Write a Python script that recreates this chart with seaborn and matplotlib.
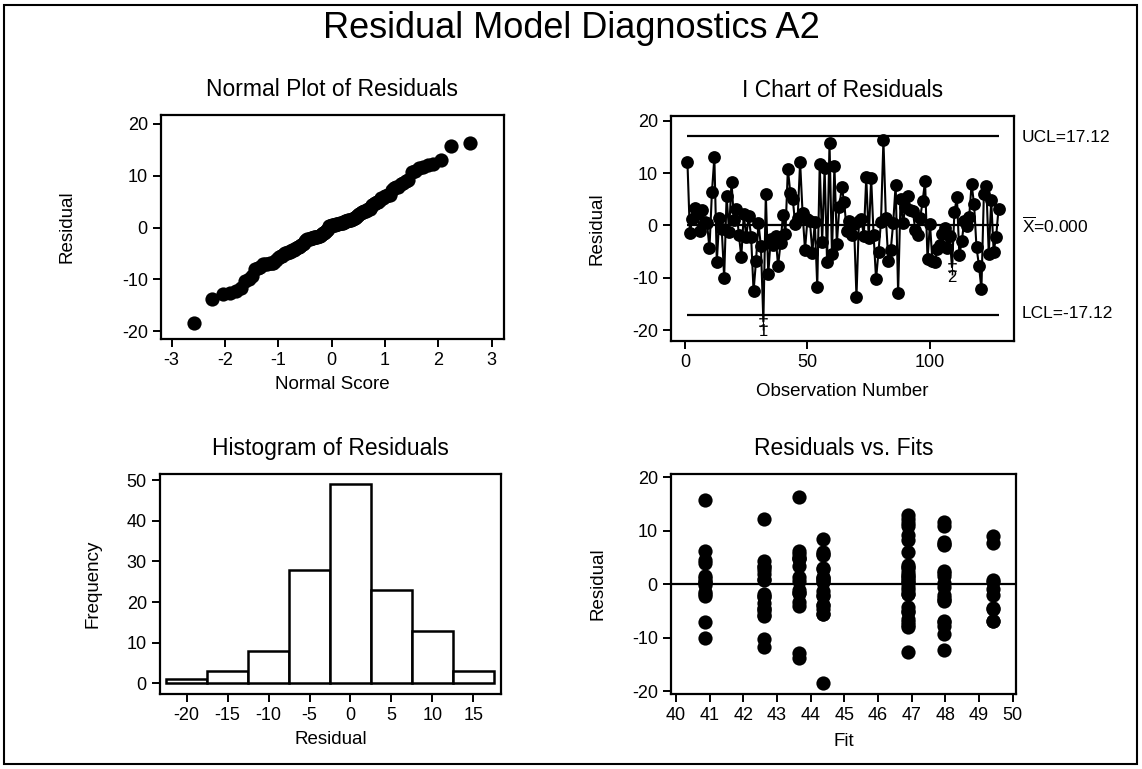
import statistics

import numpy as np
import matplotlib
matplotlib.use("Agg")
import matplotlib.pyplot as plt
from matplotlib.patches import Rectangle
import seaborn as sns

# ---- data -----------------------------------------------------------------
# residuals in observation order (1..128)
residuals = [
    12.2, -1.4, 1.2, 3.4, 2.2, -1.0, 3.0, 0.6, 0.4, -4.4,
    6.3, 13.0, -7.0, 1.4, -0.6, -10.0, 5.6, -1.2, 8.3, 1.0,
    3.2, -1.8, -6.0, 2.1, -2.2, 1.8, -2.2, -12.6, -6.8, 0.4,
    -4.0, -18.4, 6.0, -9.3, -2.6, -3.8, -2.0, -7.8, -3.4, 1.9,
    -1.6, 10.8, 6.2, 5.0, 0.2, 1.5, 12.1, 2.4, -4.7, 1.2,
    0.8, -5.2, 0.6, -11.7, 11.7, -3.2, 10.9, -7.0, 15.8, -5.5,
    11.4, -3.5, 3.5, 7.3, 4.4, -1.0, 0.8, -1.9, 0.2, -13.7,
    0.8, 1.2, -2.0, 9.2, -2.4, 9.0, -1.9, -10.3, -5.0, 0.6,
    16.3, 1.5, -6.8, -4.7, 0.5, 7.8, -12.9, 5.0, 0.5, 3.6,
    5.7, 3.0, 2.8, -0.9, -1.8, 1.4, 4.6, 8.5, -6.5, 0.3,
    -6.8, -7.0, -4.6, -3.8, -1.6, -0.5, -4.4, -2.0, -8.0, 2.6,
    5.4, -5.7, -3.0, 0.9, -0.2, 1.6, 7.9, 4.0, -4.2, -7.7,
    -12.2, 6.0, 7.6, -5.5, 4.8, -5.0, -2.2, 3.2,
]

# fitted values: the model takes one of seven levels
fit_levels = [40.86, 42.60, 43.65, 44.36, 46.90, 47.97, 49.42]
fit_index = [
    1, 0, 3, 1, 4, 2, 3, 0, 6, 1,
    0, 4, 0, 2, 5, 0, 2, 3, 4, 1,
    4, 0, 1, 5, 1, 4, 3, 4, 6, 3,
    2, 3, 3, 5, 5, 3, 6, 5, 2, 1,
    2, 4, 2, 2, 4, 0, 4, 5, 6, 4,
    1, 4, 3, 1, 5, 5, 5, 4, 0, 3,
    4, 1, 2, 5, 1, 4, 6, 1, 0, 2,
    4, 0, 3, 4, 1, 6, 4, 1, 1, 2,
    2, 5, 5, 3, 4, 6, 2, 2, 0, 4,
    3, 4, 3, 6, 4, 3, 0, 3, 4, 5,
    6, 5, 1, 3, 2, 4, 6, 5, 4, 1,
    3, 1, 5, 3, 0, 4, 5, 0, 4, 4,
    5, 4, 5, 3, 2, 4, 0, 1,
]

# individuals-chart limits
center_line = 0.0
ucl = 17.12
lcl = -17.12

# histogram bins
bin_start, bin_stop, bin_width = -22.5, 17.5, 5

# ---- style ----------------------------------------------------------------
sns.set_style("ticks")
plt.rcParams.update({
    "font.family": ["Liberation Sans", "DejaVu Sans"],
    "mathtext.fontset": "custom",
    "mathtext.rm": "Liberation Sans",
    "axes.unicode_minus": False,
    "axes.edgecolor": "black",
    "axes.linewidth": 1.6,
    "axes.labelcolor": "black",
    "text.color": "black",
    "xtick.color": "black",
    "ytick.color": "black",
    "xtick.major.size": 6,
    "ytick.major.size": 6,
    "xtick.major.width": 1.4,
    "ytick.major.width": 1.4,
    "xtick.labelsize": 13,
    "ytick.labelsize": 13,
    "axes.labelsize": 13.5,
})

W, H = 1142, 769
fig = plt.figure(figsize=(W / 100, H / 100), dpi=100)


def px_axes(left, top, right, bottom):
    return fig.add_axes([left / W, 1 - bottom / H, (right - left) / W, (bottom - top) / H])


def finish(ax, title, xlabel, ylabel, ylab_x, xlab_y):
    for sp in ax.spines.values():
        sp.set_visible(True)
        sp.set_linewidth(1.6)
    ax.set_title(title, fontsize=16.5, pad=14)
    ax.set_xlabel(xlabel)
    ax.set_ylabel(ylabel)
    ax.yaxis.set_label_coords(ylab_x, 0.5)
    ax.xaxis.set_label_coords(0.5, xlab_y)


res = np.array(residuals)
n = len(res)
obs = np.arange(1, n + 1)
fits = np.array([fit_levels[i] for i in fit_index])

fig.text(0.5, 1 - 28 / H, "Residual Model Diagnostics A2", ha="center", va="center",
         fontsize=26)

# ---- normal probability plot ----------------------------------------------
ax1 = px_axes(161, 115, 504, 339)
nd = statistics.NormalDist()
sorted_res = np.sort(res)
scores = np.array([nd.inv_cdf((i + 1 - 0.375) / (n + 0.25)) for i in range(n)])
sns.scatterplot(x=scores, y=sorted_res, color="black", s=105, linewidth=0, ax=ax1)
ax1.set_xlim(-3.2, 3.23)
ax1.set_ylim(-21.5, 21.7)
ax1.set_xticks(range(-3, 4))
ax1.set_yticks([-20, -10, 0, 10, 20])
finish(ax1, "Normal Plot of Residuals", "Normal Score", "Residual", -0.25, -0.165)

# ---- individuals chart ----------------------------------------------------
ax2 = px_axes(671, 116, 1014, 341)
test1 = (res > ucl) | (res < lcl)
side = np.sign(res - center_line)
test2 = np.zeros(n, dtype=bool)
for i in range(8, n):
    run = side[i - 8:i + 1]
    if run[0] != 0 and np.all(run == run[0]):
        test2[i] = True
flagged = test1 | test2

for level in (ucl, center_line, lcl):
    ax2.hlines(level, obs[0], obs[-1], color="black", lw=1.6, zorder=1)
sns.lineplot(x=obs, y=res, color="black", lw=1.5, estimator=None, sort=False,
             ax=ax2, zorder=2)
sns.scatterplot(x=obs[~flagged], y=res[~flagged], color="black", s=85, linewidth=0,
                ax=ax2, zorder=3)
sns.scatterplot(x=obs[flagged], y=res[flagged], color="black", marker=r"$\ddagger$",
                s=130, linewidth=0, ax=ax2, zorder=4)
for o, r, t1 in zip(obs[flagged], res[flagged], test1[flagged]):
    ax2.text(o, r - 1.9, "1" if t1 else "2", ha="center", va="center", fontsize=12,
             zorder=4)

ax2.set_xlim(-5.7, 134.3)
ax2.set_ylim(-22.1, 20.9)
ax2.set_xticks([0, 50, 100])
ax2.set_yticks([-20, -10, 0, 10, 20])
lab_tr = ax2.get_yaxis_transform()
ax2.text(1.023, ucl - 0.4, f"UCL={ucl:.2f}", transform=lab_tr, va="center", fontsize=12.5)
ax2.text(1.023, center_line, r"$\overline{\mathregular{X}}$" + f"={abs(center_line):.3f}",
         transform=lab_tr, va="center", fontsize=12.5)
ax2.text(1.023, lcl + 0.3, f"LCL={lcl:.2f}", transform=lab_tr, va="center", fontsize=12.5)
finish(ax2, "I Chart of Residuals", "Observation Number", "Residual", -0.19, -0.187)

# ---- histogram ------------------------------------------------------------
ax3 = px_axes(160, 474, 501, 694)
edges = np.arange(bin_start, bin_stop + bin_width / 2, bin_width)
sns.histplot(x=res, bins=edges, stat="count", color="white", edgecolor="black",
             linewidth=1.8, alpha=1, ax=ax3)
ax3.set_xlim(-23.26, 18.38)
ax3.set_ylim(-2.6, 51.5)
ax3.set_xticks(range(-20, 16, 5))
ax3.set_yticks(range(0, 51, 10))
finish(ax3, "Histogram of Residuals", "Residual", "Frequency", -0.173, -0.168)

# ---- residuals versus fits ------------------------------------------------
ax4 = px_axes(671, 474, 1016, 694)
ax4.axhline(0, color="black", lw=1.6, zorder=1)
sns.scatterplot(x=fits, y=res, color="black", s=105, linewidth=0, ax=ax4, zorder=3)
ax4.set_xlim(39.85, 50.1)
ax4.set_ylim(-20.5, 20.6)
ax4.set_xticks(range(40, 51))
ax4.set_yticks([-20, -10, 0, 10, 20])
finish(ax4, "Residuals vs. Fits", "Fit", "Residual", -0.188, -0.177)

# frame around the whole figure
fig.add_artist(Rectangle((4 / W, 5 / H), (1137 - 4) / W, (764 - 5) / H,
                         transform=fig.transFigure, fill=False, lw=1.5,
                         edgecolor="black"))

fig.savefig("out.png", dpi=100)
